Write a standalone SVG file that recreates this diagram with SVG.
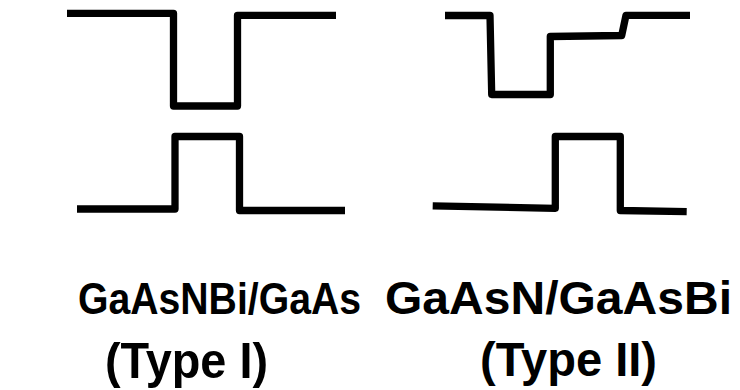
<svg xmlns="http://www.w3.org/2000/svg" width="740" height="390" viewBox="0 0 740 390">
  <style>
    .band { fill: none; stroke: #000; stroke-width: 7.3; stroke-linejoin: round; stroke-linecap: butt; }
    .lbl { font-family: "Liberation Sans", Arial, sans-serif; font-weight: bold; fill: #000; }
  </style>
  <rect width="740" height="390" fill="#fff"/>

  <!-- Type I alignment: conduction band (top) and valence band (bottom) -->
  <g id="type1">
    <path class="band" d="M67,13.3 H173.5 V106 H237.5 V15.3 H336"/>
    <path class="band" d="M77,209 H175 V136.5 H239.5 V210.5 H345"/>
    <text class="lbl" x="78" y="314" font-size="44" textLength="283" lengthAdjust="spacingAndGlyphs">GaAsNBi/GaAs</text>
    <text class="lbl" x="105" y="378" font-size="50" textLength="163" lengthAdjust="spacingAndGlyphs">(Type I)</text>
  </g>

  <!-- Type II alignment: stepped conduction band and valence band -->
  <g id="type2">
    <path class="band" d="M445,15.5 H490 L491.7,94.5 H550.3 V36.5 L621.7,35.5 L626,15.3 H690"/>
    <path class="band" d="M432.7,205.8 L555.3,208.3 V136.5 H620.3 V210.5 L686.7,211.7"/>
    <text class="lbl" x="385" y="314" font-size="46" textLength="347" lengthAdjust="spacingAndGlyphs">GaAsN/GaAsBi</text>
    <text class="lbl" x="480" y="376" font-size="48" textLength="177" lengthAdjust="spacingAndGlyphs">(Type II)</text>
  </g>
</svg>
